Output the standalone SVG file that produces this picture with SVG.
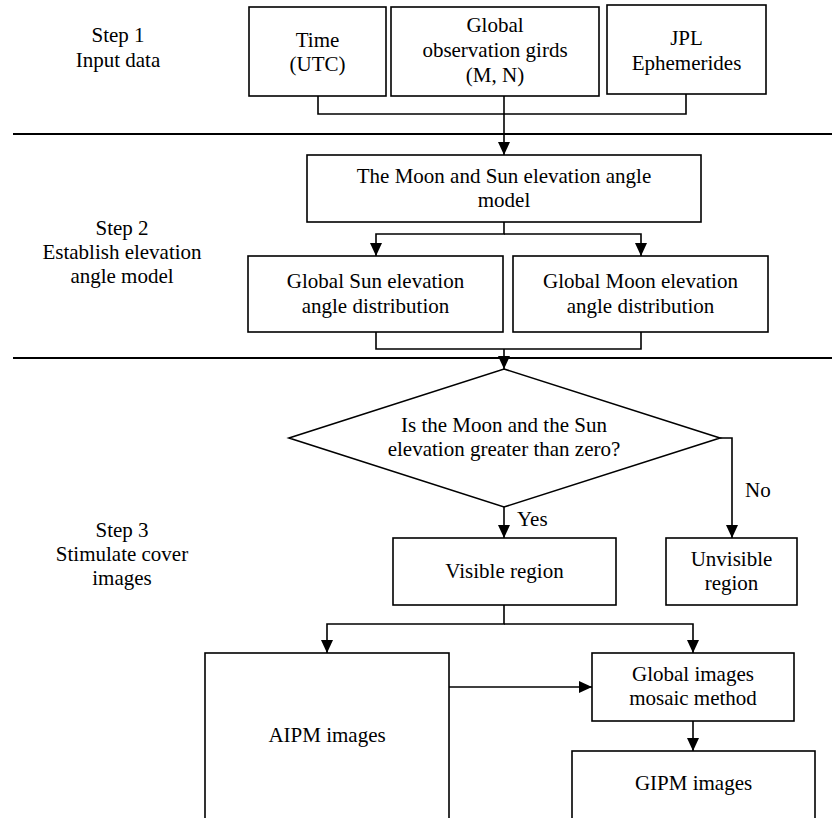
<svg xmlns="http://www.w3.org/2000/svg" width="832" height="818" viewBox="0 0 832 818">
  <defs>
    <marker id="arr" viewBox="0 0 13 12" refX="13" refY="6" markerWidth="13" markerHeight="12" markerUnits="userSpaceOnUse" orient="auto">
      <path d="M0,0 L13,6 L0,12 z" fill="#000"/>
    </marker>
    <style>
      .box { fill: #fff; stroke: #000; stroke-width: 1.6; }
      .ln { fill: none; stroke: #000; stroke-width: 1.6; }
      .sep { fill: none; stroke: #000; stroke-width: 2; }
      text { font-family: 'Liberation Serif', 'Times New Roman', Times, serif; font-size: 21px; fill: #000; text-anchor: middle; }
      .l { text-anchor: start; }
    </style>
  </defs>
  <rect width="832" height="818" fill="#fff"/>

  <g id="separators">
    <line class="sep" x1="13" y1="134" x2="832" y2="134"/>
    <line class="sep" x1="13" y1="358" x2="832" y2="358"/>
  </g>

  <g font-family="Liberation Serif, serif">
  <g id="step1">
    <text x="118" y="42">Step 1</text>
    <text x="118" y="67">Input data</text>
  </g>
  <g id="step2">
    <text x="122" y="235">Step 2</text>
    <text x="122" y="259">Establish elevation</text>
    <text x="122" y="283">angle model</text>
  </g>
  <g id="step3">
    <text x="122" y="537">Step 3</text>
    <text x="122" y="561">Stimulate cover</text>
    <text x="122" y="585">images</text>
  </g>

  <g id="connectors">
    <polyline class="ln" points="318,96 318,114 686,114 686,94"/>
    <line class="ln" x1="504" y1="96" x2="504" y2="155" marker-end="url(#arr)"/>
    <polyline class="ln" points="504,222 504,234 376,234 376,256" marker-end="url(#arr)"/>
    <polyline class="ln" points="504,234 641,234 641,256" marker-end="url(#arr)"/>
    <polyline class="ln" points="376,332 376,349 641,349 641,332"/>
    <line class="ln" x1="504" y1="349" x2="504" y2="369" marker-end="url(#arr)"/>
    <line class="ln" x1="504" y1="507" x2="504" y2="538" marker-end="url(#arr)"/>
    <polyline class="ln" points="720,438 732,438 732,538" marker-end="url(#arr)"/>
    <polyline class="ln" points="504,605 504,624 327,624 327,653" marker-end="url(#arr)"/>
    <polyline class="ln" points="504,624 693,624 693,653" marker-end="url(#arr)"/>
    <line class="ln" x1="449" y1="687" x2="592" y2="687" marker-end="url(#arr)"/>
    <line class="ln" x1="693" y1="721" x2="693" y2="751" marker-end="url(#arr)"/>
  </g>

  <g id="time">
    <rect class="box" x="249" y="7" width="137" height="89"/>
    <text x="317.5" y="47">Time</text>
    <text x="317.5" y="71">(UTC)</text>
  </g>
  <g id="grids">
    <rect class="box" x="391" y="7" width="208" height="89"/>
    <text x="495" y="32">Global</text>
    <text x="495" y="57">observation girds</text>
    <text x="495" y="82">(M, N)</text>
  </g>
  <g id="jpl">
    <rect class="box" x="607" y="5" width="159" height="89"/>
    <text x="686.5" y="45">JPL</text>
    <text x="686.5" y="70">Ephemerides</text>
  </g>

  <g id="model">
    <rect class="box" x="307" y="155" width="394" height="67"/>
    <text x="504" y="183">The Moon and Sun elevation angle</text>
    <text x="504" y="207">model</text>
  </g>
  <g id="sun">
    <rect class="box" x="248" y="256" width="255" height="76"/>
    <text x="375.5" y="288">Global Sun elevation</text>
    <text x="375.5" y="313">angle distribution</text>
  </g>
  <g id="moon">
    <rect class="box" x="513" y="256" width="255" height="76"/>
    <text x="640.5" y="288">Global Moon elevation</text>
    <text x="640.5" y="313">angle distribution</text>
  </g>

  <g id="decision">
    <polygon class="box" points="504,369 720,438 504,507 289,438"/>
    <text x="504" y="432">Is the Moon and the Sun</text>
    <text x="504" y="456">elevation greater than zero?</text>
  </g>
  <g id="labels">
    <text class="l" x="517" y="526">Yes</text>
    <text class="l" x="745" y="497">No</text>
  </g>

  <g id="visible">
    <rect class="box" x="393" y="538" width="223" height="67"/>
    <text x="504.5" y="578">Visible region</text>
  </g>
  <g id="unvisible">
    <rect class="box" x="666" y="538" width="131" height="67"/>
    <text x="731.5" y="566">Unvisible</text>
    <text x="731.5" y="590">region</text>
  </g>

  <g id="aipm">
    <rect class="box" x="205" y="653" width="244" height="190"/>
    <text x="327" y="742">AIPM images</text>
  </g>
  <g id="mosaic">
    <rect class="box" x="592" y="653" width="202" height="68"/>
    <text x="693" y="681">Global images</text>
    <text x="693" y="705">mosaic method</text>
  </g>
  <g id="gipm">
    <rect class="box" x="572" y="751" width="243" height="90"/>
    <text x="693.5" y="790">GIPM images</text>
  </g>
  </g>
</svg>
